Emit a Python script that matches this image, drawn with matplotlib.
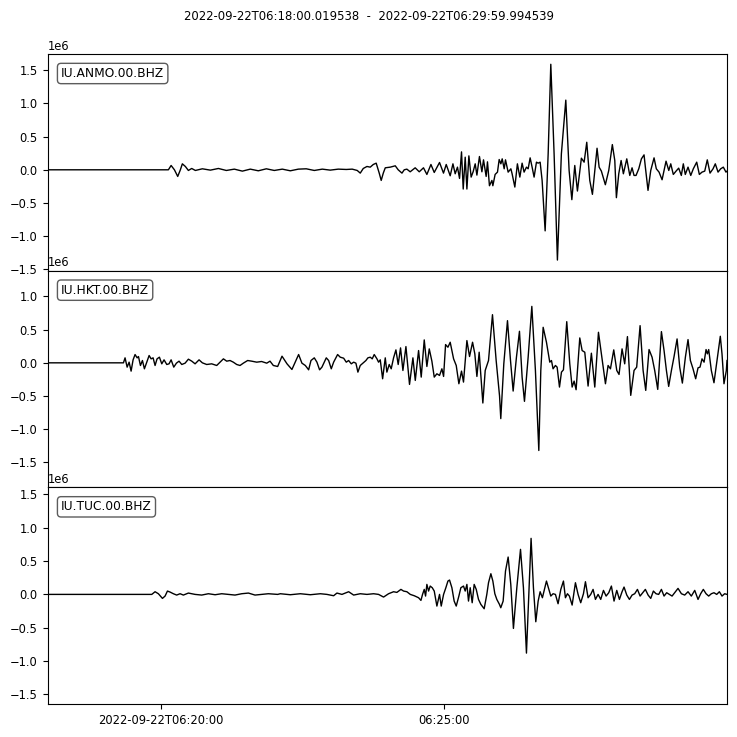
import matplotlib
matplotlib.use('Agg')
import matplotlib.pyplot as plt
import matplotlib.dates as mdates
import numpy as np
from datetime import datetime

# seconds after 06:18:00, amplitude in units of 1e6 counts
anmo_t = [0, 128.1, 131.0, 134.5, 138.0, 140.8, 142.9, 146.1, 149.3, 152.8, 156.7, 164.1, 172.6, 181.1,
          189.5, 198.0, 206.5, 214.9, 223.4, 231.9, 240.3, 248.8, 257.3, 265.8, 274.2, 282.7, 291.2,
          299.6, 308.1, 316.6, 322.9, 328.2, 331.4, 334.6, 338.5, 342.0, 345.2, 348.3, 351.5, 353.6,
          355.8, 357.9, 363.2, 368.5, 371.6, 375.6, 378.0, 380.8, 384.3, 389.6, 393.9, 398.4, 402.0,
          406.3, 409.8, 415.4, 419.6, 422.5, 426.7, 429.6, 432.0, 434.4, 436.6, 438.7, 440.5, 442.6,
          444.4, 446.5, 448.9, 451.0, 453.2, 455.0, 457.7, 460.3, 462.0, 464.8, 466.2, 468.3, 470.9,
          471.9, 474.3, 476.8, 478.6, 480.4, 481.8, 483.9, 485.3, 488.1, 491.0, 492.3, 495.2, 497.9,
          500.5, 502.9, 505.0, 507.5, 509.3, 511.4, 513.5, 515.6, 518.1, 519.9, 522.0, 524.1, 527.3,
          530.5, 533.3, 536.8, 540.3, 544.5, 549.2, 552.7, 555.6, 558.7, 561.5, 565.7, 568.6, 571.4,
          574.6, 577.4, 579.9, 582.3, 584.5, 586.9, 591.1, 594.7, 598.5, 601.1, 602.8, 605.3, 607.8,
          610.2, 613.8, 617.0, 619.4, 621.5, 623.6, 626.5, 629.3, 632.1, 633.5, 636.3, 639.2, 642.7,
          645.1, 648.0, 651.2, 655.4, 658.3, 660.4, 663.1, 666.0, 668.8, 671.6, 673.7, 675.8, 678.7,
          681.6, 684.3, 687.9, 690.7, 693.5, 696.4, 699.1, 702.0, 705.2, 707.6, 710.5, 713.3, 716.1,
          718.9, 720.0]
anmo_a = [0, 0, 0.065, 0, -0.1, 0, 0.09, 0.05, -0.01, 0.02, -0.01, 0.015, -0.005, 0.02,
          -0.01, 0.01, -0.02, 0.01, -0.015, 0.015, -0.01, 0.01, -0.015, 0.01, 0.015, -0.01, 0.01,
          -0.005, 0.01, 0.005, 0.01, -0.01, -0.05, 0.02, 0.05, 0.04, 0.08, 0.1, -0.05, -0.16,
          -0.05, 0.03, 0.04, 0.06, 0.0, -0.05, 0.0, 0.01, -0.03, 0.03, -0.03, 0.03, -0.07,
          0.08, -0.04, 0.11, -0.05, 0.08, -0.09, 0.09, -0.06, 0.04, -0.13, 0.27, -0.29, 0.19,
          -0.29, 0.21, -0.11, -0.03, 0.09, -0.08, 0.2, -0.03, 0.15, -0.1, 0.12, -0.24, -0.16,
          -0.24, -0.07, -0.035, 0.155, 0.09, 0.165, 0.015, 0.15, -0.035, 0.015, -0.06, -0.26, 0.09,
          -0.11, 0.1, -0.035, 0.04, 0.015, 0.18, 0.04, -0.11, 0.115, 0.1, 0.115, -0.16, -0.92,
          0.24, 1.59, 0.24, -1.36, 0.24, 1.05, -0.01, -0.45, 0.065, -0.32, 0.175, 0.115, 0.415,
          -0.16, -0.37, -0.01, 0.325, 0.04, -0.02, -0.225, -0.01, 0.38, 0.14, -0.42, -0.06, 0.14,
          -0.06, 0.165, -0.085, 0.03, -0.085, -0.085, 0.015, 0.165, 0.225, 0.04, -0.31, -0.01, 0.18,
          0.015, -0.035, -0.15, 0.13, -0.01, 0.09, -0.07, -0.02, 0.025, -0.085, 0.09, -0.07, 0.04,
          -0.085, 0.015, 0.115, -0.07, -0.035, -0.02, 0.15, -0.05, 0.015, 0.09, -0.035, 0.015, 0.04,
          -0.035, -0.02]

hkt_t = [0, 80.5, 82.2, 84.4, 86.5, 88.6, 90.7, 92.8, 95.0, 96.4, 98.5, 100.6, 102.7, 105.2, 107.7,
         109.8, 111.9, 114.0, 116.1, 118.6, 121.1, 123.5, 126.4, 128.8, 131.0, 133.8, 136.6, 139.4,
         142.3, 145.8, 149.3, 152.9, 156.4, 160.6, 164.1, 168.7, 174.0, 179.3, 182.8, 186.4, 189.9,
         193.4, 196.9, 200.5, 204.0, 207.5, 212.1, 216.4, 221.7, 226.9, 232.3, 235.8, 239.3, 243.9,
         248.5, 253.8, 259.0, 266.1, 269.6, 273.2, 276.7, 279.2, 282.7, 285.5, 288.3, 290.8, 295.4,
         297.9, 300.7, 303.2, 307.4, 310.2, 313.8, 316.6, 319.1, 321.9, 324.4, 326.8, 328.9, 331.4,
         334.2, 337.4, 339.5, 342.0, 344.1, 346.2, 349.1, 350.8, 352.6, 355.1, 357.9, 359.6, 362.1,
         364.2, 366.7, 369.2, 371.6, 374.1, 376.6, 379.8, 383.6, 387.2, 389.7, 393.2, 396.0, 399.2,
         402.0, 404.5, 407.3, 409.8, 412.6, 415.4, 417.9, 419.7, 421.8, 424.3, 426.7, 430.3, 433.1,
         435.9, 438.7, 440.8, 444.4, 447.2, 450.4, 452.8, 455.0, 457.4, 461.3, 463.8, 467.3, 471.5,
         475.4, 479.0, 480.3, 483.5, 487.4, 490.6, 493.4, 496.9, 500.1, 502.9, 505.4, 509.3, 513.2,
         517.0, 520.6, 522.7, 525.2, 528.7, 532.2, 534.0, 535.7, 538.2, 540.0, 542.5, 544.6, 546.7,
         550.2, 553.4, 555.9, 558.0, 560.1, 564.0, 566.5, 569.3, 572.8, 576.3, 579.9, 583.8, 586.9,
         591.2, 594.0, 596.5, 600.0, 603.2, 605.6, 608.8, 611.6, 614.5, 618.0, 621.5, 624.3, 627.9,
         631.1, 633.9, 637.4, 640.6, 643.4, 646.6, 650.5, 653.3, 655.8, 658.2, 661.1, 663.9, 667.1,
         669.9, 672.7, 675.9, 678.7, 681.2, 684.0, 686.8, 689.3, 691.4, 693.5, 695.7, 697.8, 699.2,
         700.6, 703.4, 706.2, 709.4, 712.9, 714.7, 716.8, 719.3, 720.0]
hkt_a = [0, 0, 0.075, -0.065, 0.01, -0.125, 0.045, 0.125, 0.075, 0.095, -0.04, 0.035, -0.09, 0.01, 0.11,
         0.06, 0.075, -0.04, 0.06, 0.085, -0.015, 0.045, -0.025, -0.015, 0.045, -0.065, -0.005, 0.025,
         -0.025, -0.005, 0.055, 0.025, -0.015, 0.045, 0, -0.025, -0.015, -0.04, 0.01, 0.06, 0.025,
         0.035, 0.01, -0.025, -0.04, -0.005, 0.035, 0.025, 0.01, 0.02, -0.005, 0.025, -0.04, -0.055,
         0.1, -0.015, -0.1, 0.125, -0.005, -0.04, -0.105, 0.035, 0.075, 0.01, -0.105, -0.065, 0.075,
         0.035, -0.09, 0.01, 0.125, 0.085, 0.07, 0.01, 0.035, -0.015, 0.01, -0.005, -0.14, -0.04,
         -0.005, 0.035, 0.075, 0.085, 0.06, 0.125, 0.06, 0.01, 0.045, -0.24, 0.075, -0.14, -0.025,
         -0.09, 0.075, 0.195, -0.025, 0.225, -0.115, 0.245, -0.325, 0.075, -0.265, 0.185, -0.215, 0.345,
         -0.055, 0.21, 0.025, -0.215, -0.165, -0.19, -0.09, -0.205, 0.275, 0.235, 0.31, 0.06, -0.04,
         -0.315, -0.125, -0.29, 0.335, 0.095, 0.31, 0.135, -0.205, 0.16, -0.605, -0.115, 0.035, 0.725,
         0.035, -0.5, -0.84, -0.015, 0.635, 0.035, -0.425, 0.085, 0.475, -0.215, -0.58, 0.085, 0.85,
         -0.115, -1.32, -0.115, 0.535, 0.31, 0.01, 0.035, -0.09, -0.04, -0.065, -0.365, -0.14, -0.105,
         0.62, -0.015, -0.365, -0.275, -0.405, 0.375, 0.185, 0.16, -0.35, 0.145, -0.365, 0.46, 0.135,
         -0.315, -0.04, -0.09, 0.195, -0.115, -0.175, 0.21, -0.015, 0.395, -0.49, -0.115, -0.065, 0.56,
         -0.115, -0.415, 0.2, 0.085, -0.115, -0.4, 0.47, 0.185, -0.115, -0.355, -0.115, 0.095, 0.36,
         -0.065, -0.305, 0.085, 0.35, 0.035, -0.09, -0.24, -0.075, -0.065, 0.06, 0.01, 0.2, 0.135,
         0.2, -0.115, -0.3, 0.035, 0.4, 0.135, -0.315, -0.115, 0.035]

tuc_t = [0, 110.5, 114.0, 117.5, 121.8, 124.6, 127.1, 129.9, 133.4, 136.9, 140.5, 144.0, 149.3, 156.4,
         163.4, 170.5, 177.6, 184.6, 191.7, 198.7, 205.8, 212.9, 219.9, 227.0, 234.0, 243.9, 246.7,
         257.3, 267.9, 278.5, 289.1, 296.1, 303.2, 306.7, 312.0, 319.1, 324.4, 331.4, 338.5, 345.5,
         350.8, 356.1, 361.4, 366.7, 370.2, 374.5, 377.3, 380.8, 384.4, 388.6, 393.2, 395.7, 397.4,
         399.2, 400.6, 402.0, 403.8, 405.5, 407.7, 409.8, 412.6, 415.4, 417.2, 419.7, 422.1, 424.3,
         426.0, 428.5, 430.9, 433.1, 435.9, 438.0, 440.8, 442.6, 444.4, 446.1, 447.9, 450.0, 452.1,
         454.3, 456.7, 459.2, 462.7, 465.5, 467.3, 469.8, 471.9, 474.0, 476.1, 478.9, 480.3, 482.8,
         485.3, 488.1, 490.9, 493.7, 497.3, 501.2, 504.3, 507.5, 510.0, 512.4, 514.9, 517.4, 519.9,
         522.0, 524.4, 528.7, 531.2, 533.3, 535.7, 538.2, 541.0, 543.9, 546.7, 548.8, 550.9, 553.0,
         555.9, 559.4, 562.2, 565.0, 567.9, 570.0, 572.8, 575.6, 578.1, 580.6, 583.4, 586.2, 589.1,
         591.9, 594.7, 597.5, 600.3, 603.2, 606.0, 608.8, 610.9, 613.8, 616.6, 619.4, 622.2, 625.1,
         627.9, 630.7, 633.5, 636.4, 639.2, 642.0, 644.8, 647.6, 650.5, 653.3, 656.1, 658.9, 661.8,
         664.6, 668.1, 671.7, 675.2, 678.7, 682.2, 685.8, 689.3, 692.1, 694.9, 697.8, 700.6, 703.4,
         706.2, 709.1, 711.9, 714.7, 717.5, 720.0]
tuc_a = [0, 0, 0.04, 0.01, -0.06, -0.025, 0.05, 0.035, 0.01, -0.01, 0.01, -0.01, 0.02, 0,
         -0.01, 0.01, -0.005, 0.01, 0, -0.01, 0.01, 0.02, -0.01, 0, 0.01, 0, 0.01,
         -0.005, 0.01, -0.005, 0.01, 0, -0.02, 0.02, 0, 0.04, -0.01, 0.01, 0, 0.01,
         0, -0.04, 0.01, 0.04, 0.03, 0.075, 0.05, 0.04, 0, -0.02, -0.05, -0.09, 0,
         0.075, -0.025, 0.15, 0.05, 0.125, 0.1, 0.05, -0.175, 0, -0.175, 0, 0.1, 0.2,
         0.215, 0.1, -0.1, -0.175, -0.025, 0.1, 0.125, 0.05, 0.15, -0.1, 0.1, -0.125, 0.15,
         0.075, -0.075, -0.15, -0.215, 0, 0.175, 0.31, 0.2, 0.01, -0.075, -0.15, -0.2, -0.1,
         0.35, 0.56, 0.15, -0.51, 0.1, 0.675, 0.1, -0.88, 0, 0.84, 0.1, -0.41, -0.1,
         0.04, -0.05, 0.2, 0.075, -0.025, 0.01, 0, -0.14, 0.075, 0.2, -0.05, 0.01, -0.025,
         -0.16, 0.175, 0, -0.125, 0.01, 0.19, -0.05, 0, 0.075, -0.075, 0, -0.075, 0.06,
         -0.025, 0.025, 0.125, -0.1, 0.06, -0.075, 0.04, 0.11, -0.01, -0.075, -0.01, 0.01, 0.075,
         -0.025, 0.025, 0.075, -0.01, -0.06, 0.05, 0.01, 0, 0.075, -0.025, 0.025, 0, -0.025,
         0.025, 0.09, 0.01, -0.01, 0.04, -0.025, 0.06, -0.075, 0.01, 0.075, 0.01, -0.025, 0.01,
         0.025, 0, 0.04, -0.025, 0.01, 0]

labels = ['IU.ANMO.00.BHZ', 'IU.HKT.00.BHZ', 'IU.TUC.00.BHZ']
ylims = [(-1.52, 1.745), (-1.875, 1.388), (-1.643, 1.605)]
traces = [(anmo_t, anmo_a), (hkt_t, hkt_a), (tuc_t, tuc_a)]

t0 = datetime(2022, 9, 22, 6, 18, 0)
t_start = datetime(2022, 9, 22, 6, 18, 0, 19538)
t_end = datetime(2022, 9, 22, 6, 29, 59, 994539)
d0 = mdates.date2num(t0)

plt.rcParams['font.size'] = 8.3

fig = plt.figure(figsize=(7.37, 7.37), dpi=100)
left, right = 47.5 / 737, 727 / 737
top, bottom = 1 - 54 / 737, 1 - 704 / 737
h = (top - bottom) / 3

axes = []
for i, (tt, aa) in enumerate(traces):
    ax = fig.add_axes([left, top - (i + 1) * h, right - left, h],
                      sharex=axes[0] if axes else None)
    axes.append(ax)
    tt = np.maximum(np.array(tt), 0.0195)
    x = d0 + tt / 86400.0
    ax.plot(x, np.array(aa) * 1e6, color='k', linewidth=1.0)
    ax.set_yticks(np.arange(-1.5, 1.51, 0.5) * 1e6)
    ax.set_ylim(ylims[i][0] * 1e6, ylims[i][1] * 1e6)
    ax.text(0.02, 0.94, labels[i], transform=ax.transAxes, va='top', ha='left', fontsize=8.8,
            bbox=dict(boxstyle='round', facecolor='white', edgecolor='0.2', alpha=0.8))
    if i < 2:
        ax.tick_params(labelbottom=False)

axes[0].set_xlim(mdates.date2num(t_start), mdates.date2num(t_end))
ticks = [mdates.date2num(datetime(2022, 9, 22, 6, 20)), mdates.date2num(datetime(2022, 9, 22, 6, 25))]
axes[2].set_xticks(ticks)
axes[2].set_xticklabels(['2022-09-22T06:20:00', '06:25:00'])

fig.suptitle('2022-09-22T06:18:00.019538  -  2022-09-22T06:29:59.994539', y=0.986, fontsize=8.4)

fig.savefig('out.png', dpi=100)
